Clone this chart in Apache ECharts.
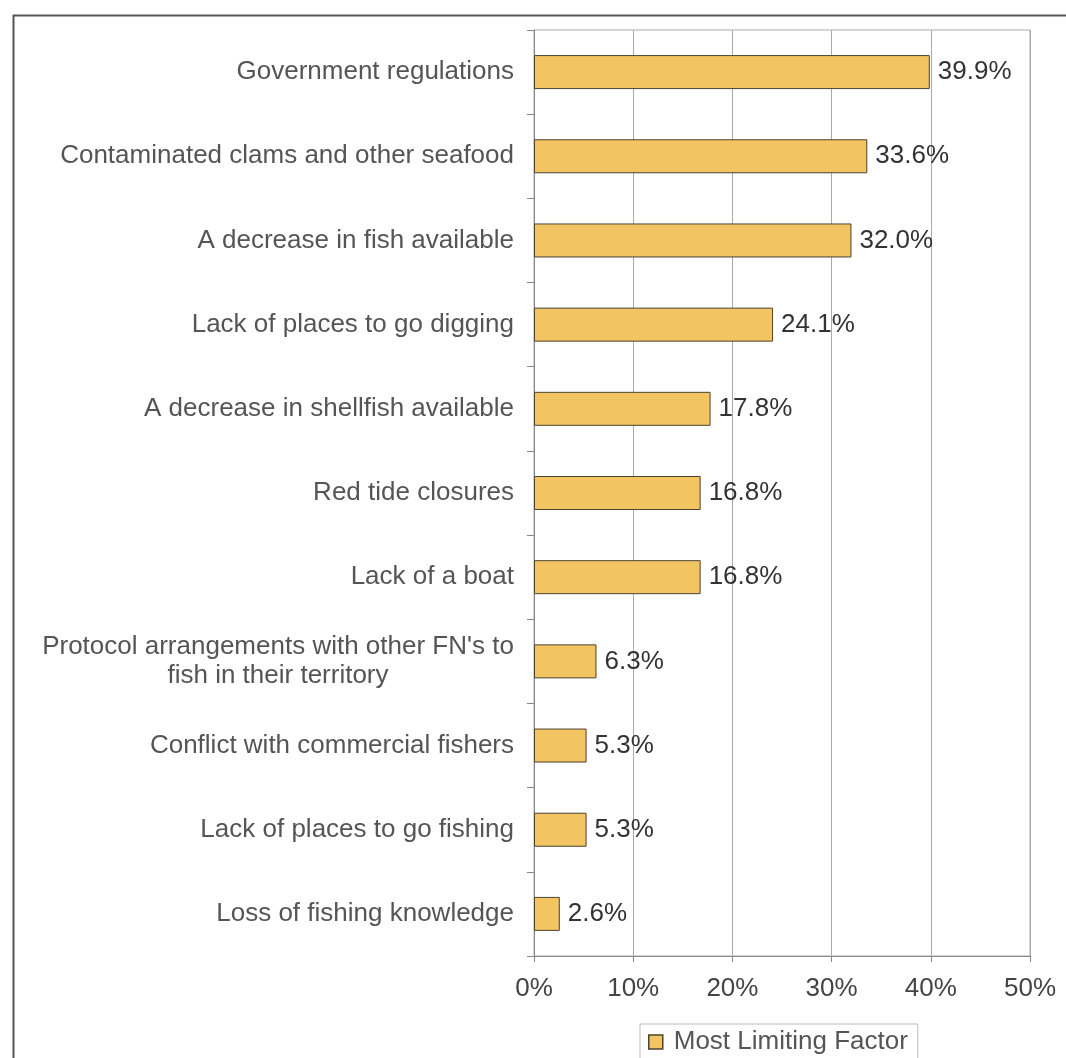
<!DOCTYPE html>
<html>
<head>
<meta charset="utf-8">
<script src="https://cdn.jsdelivr.net/npm/echarts@6/dist/echarts.min.js"></script>
<style>
html, body { margin: 0; padding: 0; background: #fff; }
#main { width: 1066px; height: 1058px; }
</style>
</head>
<body>
<div id="main"></div>
<script>
var categories = [
    'Government regulations',
    'Contaminated clams and other seafood',
    'A decrease in fish available',
    'Lack of places to go digging',
    'A decrease in shellfish available',
    'Red tide closures',
    'Lack of a boat',
    "Protocol arrangements with other FN's to\nfish in their territory",
    'Conflict with commercial fishers',
    'Lack of places to go fishing',
    'Loss of fishing knowledge'
];
var values = [39.9, 33.6, 32.0, 24.1, 17.8, 16.8, 16.8, 6.3, 5.3, 5.3, 2.6];
var seriesName = 'Most Limiting Factor';
var xTicks = [0, 10, 20, 30, 40, 50];

var chart = echarts.init(document.getElementById('main'));
var font = '"Liberation Sans", Arial, sans-serif';

var option = {
    backgroundColor: '#fff',
    animation: false,
    graphic: [{
        type: 'rect',
        left: 11, top: 13,
        shape: { width: 1200, height: 1200 },
        style: { fill: 'none', stroke: '#555', lineWidth: 2 },
        z: -1
    }],
    grid: {
        left: 534, right: 36, top: 30, bottom: 102,
        show: true, borderColor: '#aaa', borderWidth: 1
    },
    legend: {
        data: [seriesName],
        icon: 'rect',
        left: 640, top: 1024,
        itemWidth: 14, itemHeight: 14,
        itemStyle: { borderColor: '#4a4232', borderWidth: 1.5 },
        borderColor: '#bbb', borderWidth: 1,
        padding: [5, 10, 5, 8],
        textStyle: { fontFamily: font, fontSize: 26, color: '#555', padding: [0, 0, 0, 6] }
    },
    xAxis: {
        type: 'value',
        min: xTicks[0], max: xTicks[xTicks.length - 1], interval: 10,
        axisLine: { show: true, lineStyle: { color: '#888' } },
        axisTick: { show: true, length: 6, lineStyle: { color: '#888' } },
        splitLine: { show: true, lineStyle: { color: '#aaa', width: 1 } },
        axisLabel: {
            margin: 20,
            fontFamily: font, fontSize: 26, color: '#444',
            formatter: '{value}%'
        }
    },
    yAxis: {
        type: 'category',
        inverse: true,
        data: categories,
        axisLine: { show: true, lineStyle: { color: '#888' } },
        axisTick: { show: true, length: 7, lineStyle: { color: '#888' } },
        axisLabel: {
            margin: 20,
            fontFamily: font, fontSize: 26, color: '#555',
            formatter: function (v) {
                if (v.indexOf('\n') >= 0) return '{c|' + v + '}';
                return v;
            },
            rich: {
                c: { fontFamily: font, fontSize: 26, color: '#555', width: 472, align: 'center', lineHeight: 29 }
            }
        }
    },
    series: [{
        name: seriesName,
        type: 'bar',
        data: values,
        barWidth: 34,
        itemStyle: { color: '#F3C462', borderColor: '#4a4232', borderWidth: 1 },
        label: {
            show: true, position: 'right', distance: 8,
            fontFamily: font, fontSize: 26, color: '#333',
            formatter: function (p) { return p.value.toFixed(1) + '%'; }
        }
    }]
};
chart.setOption(option);
</script>
</body>
</html>
